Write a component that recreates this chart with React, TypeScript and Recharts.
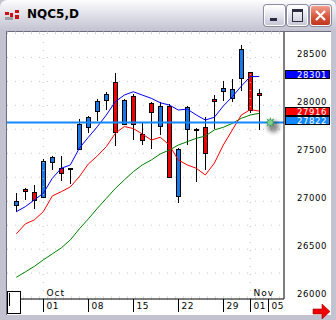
import React from 'react';
import {
  ComposedChart,
  Bar,
  Line,
  XAxis,
  YAxis,
  CartesianGrid,
  ReferenceLine,
  ReferenceDot,
} from 'recharts';

// trading days, plus two empty slots to the right
const dates = [
  '09-26', '09-29', '09-30', '10-01', '10-02', '10-03', '10-06', '10-07', '10-08', '10-09',
  '10-10', '10-13', '10-14', '10-15', '10-16', '10-17', '10-20', '10-21', '10-22', '10-23',
  '10-24', '10-27', '10-28', '10-29', '10-30', '10-31', '11-03', '11-04', '11-05', '11-06',
];

const opens = [26964, 27124, 27095, 27043, 27406, 27343, 27351, 27545, 27779, 27936, 28051, 28240, 27807, 28093, 27696, 28020, 27783, 27992, 27058, 27758, 27758, 27779, 28065, 28146, 28072, 28282, 28344, 28128];
const highs = [27089, 27137, 27165, 27440, 27470, 27469, 27351, 27853, 27894, 28065, 28138, 28337, 28068, 28114, 27817, 28037, 28037, 28010, 27550, 27990, 27760, 27874, 28107, 28256, 28274, 28627, 28350, 28170];
const lows = [26886, 27016, 26922, 27030, 27322, 27210, 27183, 27540, 27712, 27838, 27950, 27576, 27793, 27643, 27587, 27549, 27688, 27240, 26977, 27584, 27200, 27330, 27758, 28041, 28030, 28152, 27922, 27741];
const closes = [26998, 27103, 27016, 27416, 27466, 27298, 27336, 27803, 27874, 28041, 28117, 27720, 28051, 27803, 27643, 27929, 27989, 27249, 27542, 27984, 27745, 27503, 28041, 28177, 28166, 28588, 27950, 28107];

const maFast = [26891, 26943, 27013, 27083, 27239, 27344, 27378, 27552, 27667, 27777, 27899, 28038, 28107, 28142, 28107, 28073, 28027, 28003, 27951, 27961, 27899, 27847, 27875, 27993, 28090, 28200, 28300, 28301];
const maMid = [26659, 26763, 26805, 26891, 27055, 27100, 27149, 27256, 27388, 27472, 27569, 27708, 27779, 27758, 27701, 27638, 27667, 27586, 27430, 27378, 27344, 27274, 27396, 27586, 27743, 27899, 27955, 27940];
const maSlow = [26206, 26263, 26320, 26388, 26451, 26513, 26596, 26711, 26815, 26925, 27029, 27133, 27222, 27308, 27378, 27430, 27493, 27534, 27586, 27621, 27656, 27680, 27743, 27771, 27812, 27865, 27899, 27917];

const priceTicks = [26000, 26250, 26500, 26750, 27000, 27250, 27500, 27750, 28000, 28250, 28500, 28750];
const tickDates = ['10-01', '10-08', '10-15', '10-22', '10-29', '11-03', '11-05'];
const tickLabels = ['01', '08', '15', '22', '29', '01', '05'];
const monthStarts = ['10-01', '11-03'];
const monthNames = ['Oct', 'Nov'];

const fastLast = 28301;
const midLast = 27916;
const lineLevel = 27822;

const data = dates.map((date, i) => ({
  date,
  open: opens[i],
  high: highs[i],
  low: lows[i],
  close: closes[i],
  fast: maFast[i],
  mid: maMid[i],
  slow: maSlow[i],
}));

const UP = '#1a78e6';
const DOWN = '#f00000';
const LEVEL = '#1287ff';
const FONT = 'DejaVu Sans';

function Candle(props: any) {
  const { x, y, width, height, payload } = props;
  if (payload == null || payload.open == null || !height) return null;
  const { open, close, high, low } = payload;
  const py = (v: number) => y + ((high - v) / (high - low)) * height;
  const cx = Math.round(x + width / 2) + 0.5;
  const top = Math.round(py(Math.max(open, close)));
  const bot = Math.round(py(Math.min(open, close)));
  const up = close > open;
  return (
    <g>
      <line x1={cx} x2={cx} y1={Math.round(y)} y2={Math.round(y + height)} stroke="#000" />
      <rect
        x={cx - 2}
        y={top + 0.5}
        width={4}
        height={Math.max(bot - top, 1)}
        fill={up ? UP : DOWN}
        stroke="#000"
      />
    </g>
  );
}

function DateTick(props: any) {
  const { x, y, payload } = props;
  const i = tickDates.indexOf(payload.value);
  const m = monthStarts.indexOf(payload.value);
  const tx = Math.round(x) + 0.5;
  return (
    <g>
      <line x1={tx} x2={tx} y1={y} y2={y + 13} stroke="#000" />
      <text x={tx + 3} y={y + 10} fontSize={9} fontFamily={FONT} fill="#000" letterSpacing={0.6}>
        {tickLabels[i]}
      </text>
      {m >= 0 && (
        <text x={tx + 3} y={y - 3} fontSize={9} fontFamily={FONT} fill="#000" letterSpacing={1}>
          {monthNames[m]}
        </text>
      )}
    </g>
  );
}

function PriceTick(props: any) {
  const { y, payload } = props;
  if (payload.value % 500 !== 0) return null;
  return (
    <text x={327} y={y} textAnchor="end" fontSize={8.5} fontFamily={FONT} fill="#000" letterSpacing={0.6}>
      {payload.value}
    </text>
  );
}

function tag(value: number, bg: string) {
  return (props: any) => {
    const vy = props.viewBox.y;
    const top = Math.round(vy) - 5.5;
    return (
      <g>
        <rect x={285.5} y={top} width={44} height={8} fill={bg} stroke="#000" />
        <text x={327} y={top + 7.2} textAnchor="end" fontSize={8.5} fontFamily={FONT} fill="#fff" letterSpacing={0.6}>
          {value}
        </text>
      </g>
    );
  };
}

function Sparkle(props: any) {
  const { cx, cy } = props;
  const pts: string[] = [];
  for (let k = 0; k < 16; k++) {
    const r = k % 2 === 0 ? 5.5 : 2.5;
    const a = (Math.PI * k) / 8;
    pts.push(`${cx + 2 + r * Math.cos(a)},${cy + r * Math.sin(a)}`);
  }
  return (
    <g>
      <defs>
        <filter id="blur" x="-1" y="-1" width="3" height="3">
          <feGaussianBlur stdDeviation="2" />
        </filter>
      </defs>
      <circle cx={cx + 5} cy={cy + 4} r={6} fill="#000" opacity={0.45} filter="url(#blur)" />
      <polygon points={pts.join(' ')} fill="#2f9a4c" />
      <circle cx={cx + 2} cy={cy} r={2.5} fill="#7fd08f" />
    </g>
  );
}

function PriceChart() {
  return (
    <ComposedChart
      width={336}
      height={320}
      data={data}
      margin={{ top: 32, left: 7, right: 0, bottom: 0 }}
      style={{ position: 'absolute', left: 0, top: 0 }}
    >
      <CartesianGrid vertical={false} stroke="#c4c4c4" strokeDasharray="1 7" />
      <XAxis
        dataKey="date"
        height={21}
        ticks={tickDates}
        interval={0}
        tick={<DateTick />}
        tickLine={false}
        tickSize={0}
        tickMargin={0}
        axisLine={{ stroke: '#000' }}
        padding={{ left: 4.8, right: 2.2 }}
      />
      <YAxis
        orientation="right"
        width={52}
        domain={[25980, 28765]}
        allowDataOverflow
        ticks={priceTicks}
        interval={0}
        tick={<PriceTick />}
        tickLine={false}
        axisLine={{ stroke: '#000' }}
      />
      {monthStarts.map((d) => (
        <ReferenceLine key={d} x={d} stroke="#c4c4c4" strokeDasharray="1 7" />
      ))}
      <Line dataKey="slow" stroke="#008000" strokeWidth={1} dot={false} isAnimationActive={false} />
      <Line dataKey="mid" stroke="#ff0000" strokeWidth={1} dot={false} isAnimationActive={false} />
      <Line dataKey="fast" stroke="#0000ff" strokeWidth={1} dot={false} isAnimationActive={false} />
      <Bar
        dataKey={(d: any) => (d.open == null ? null : [d.low, d.high])}
        barSize={5}
        shape={<Candle />}
        isAnimationActive={false}
      />
      <ReferenceLine y={lineLevel} stroke={LEVEL} strokeWidth={2} label={tag(lineLevel, LEVEL)} />
      <ReferenceLine y={fastLast} stroke="none" label={tag(fastLast, '#0000ff')} />
      <ReferenceLine y={midLast} stroke="none" label={tag(midLast, '#ff0000')} />
      <ReferenceDot x="11-05" y={lineLevel} r={5} shape={<Sparkle />} />
    </ComposedChart>
  );
}

function Button({ left, close, children }: { left: number; close?: boolean; children: React.ReactNode }) {
  return (
    <div
      style={{
        position: 'absolute',
        left,
        top: 5,
        width: 19,
        height: 19,
        borderRadius: 3,
        border: '1px solid ' + (close ? '#f4f4f4' : '#ffffff'),
        boxShadow: '0 0 0 1px #8a8aa0',
        background: close
          ? 'linear-gradient(#f0a090, #d8573e 55%, #c0361e)'
          : 'linear-gradient(#ffffff, #e4e4ee 50%, #c6c6d6)',
      }}
    >
      {children}
    </div>
  );
}

export default function App() {
  return (
    <div
      style={{
        position: 'absolute',
        left: 0,
        top: 0,
        width: 336,
        height: 320,
        overflow: 'hidden',
        background: '#c2c2d0',
      }}
    >
      {/* title bar */}
      <div
        style={{
          position: 'absolute',
          left: 0,
          top: 0,
          width: 336,
          height: 30,
          borderRadius: '7px 7px 0 0',
          background: 'linear-gradient(#fdfdfe, #e8e8ef 35%, #d2d2de 75%, #c4c4d2)',
        }}
      />
      <svg style={{ position: 'absolute', left: 5, top: 10 }} width={16} height={12}>
        <rect x={0} y={2} width={4} height={3} fill="#d01010" />
        <rect x={5} y={3} width={3} height={4} fill="#d01010" />
        <rect x={10} y={0} width={4} height={3} fill="#d01010" />
        <rect x={10} y={5} width={4} height={4} fill="#d01010" />
        <rect x={0} y={7} width={8} height={3} fill="#a0a0a8" />
      </svg>
      <div
        style={{
          position: 'absolute',
          left: 27,
          top: 7,
          fontFamily: FONT,
          fontWeight: 'bold',
          fontSize: 12,
          color: '#000',
        }}
      >
        NQC5,D
      </div>
      <Button left={264}>
        <div style={{ position: 'absolute', left: 5, top: 12, width: 7, height: 3, background: '#2a2a40' }} />
      </Button>
      <Button left={287}>
        <div
          style={{
            position: 'absolute',
            left: 4,
            top: 3,
            width: 9,
            height: 9,
            border: '1px solid #2a2a40',
            borderTopWidth: 3,
          }}
        />
      </Button>
      <Button left={310} close>
        <svg width={19} height={19} style={{ position: 'absolute', left: 0, top: 0 }}>
          <path d="M5 5 L14 14 M14 5 L5 14" stroke="#fff" strokeWidth={2.2} />
        </svg>
      </Button>

      {/* client area */}
      <div
        style={{
          position: 'absolute',
          left: 6,
          top: 31,
          width: 325,
          height: 284,
          background: '#fff',
          borderTop: '1px solid #6c6c7c',
          borderLeft: '1px solid #6c6c7c',
          boxSizing: 'border-box',
        }}
      />
      <PriceChart />

      {/* scroll thumb */}
      <div
        style={{
          position: 'absolute',
          left: 7,
          top: 291,
          width: 12,
          height: 21,
          background: '#fff',
          border: '1px solid #000',
        }}
      >
        <div style={{ position: 'absolute', left: 1, top: 1, width: 1, height: 13, background: '#000' }} />
      </div>

      {/* red arrow */}
      <svg style={{ position: 'absolute', left: 312, top: 304 }} width={20} height={15}>
        <polygon points="1,5 10,5 10,0 18,7.5 10,15 10,10 1,10" fill="#f00000" stroke="#a00000" strokeWidth={0.6} />
      </svg>
    </div>
  );
}
